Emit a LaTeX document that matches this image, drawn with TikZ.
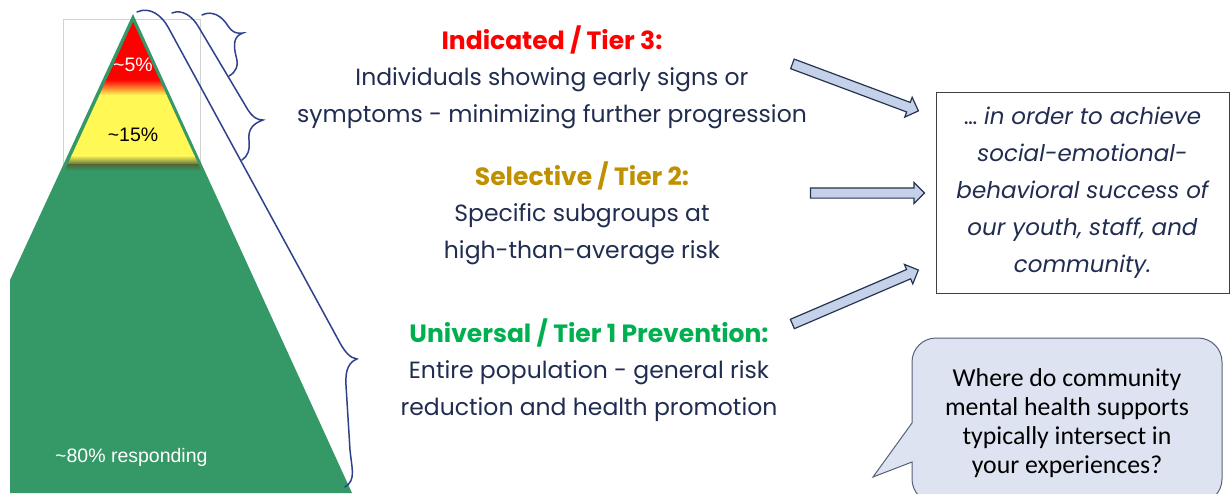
\documentclass[tikz,border=0pt]{standalone}
\usepackage{fontspec}
\setmainfont{Poppins}
\newfontfamily\arialfont{Liberation Sans}
\newfontfamily\calibrifont{Carlito}
\usetikzlibrary{calc,shapes.arrows}

\definecolor{pyrgreen}{RGB}{52,153,102}
\definecolor{pyrred}{RGB}{255,0,0}
\definecolor{pyryellow}{RGB}{255,248,85}
\definecolor{pyrolive}{RGB}{80,105,60}
\definecolor{bracecol}{RGB}{47,65,140}
\definecolor{navytext}{RGB}{33,45,80}
\definecolor{tierred}{RGB}{255,0,0}
\definecolor{tiergold}{RGB}{191,144,0}
\definecolor{tiergreen}{RGB}{0,176,80}
\definecolor{arrowfill}{RGB}{197,209,232}
\definecolor{arrowline}{RGB}{36,52,82}
\definecolor{bubblefill}{RGB}{221,227,240}
\definecolor{bubbleline}{RGB}{86,98,122}

\newcommand{\tiertitle}[2]{{\fontsize{25}{36.5}\selectfont\bfseries\color{#1}#2}}

\tikzset{
  tiertext/.style={align=center, text=navytext, inner sep=0pt,
    font=\fontsize{23.5}{36.5}\selectfont},
  blockarr/.style={single arrow, draw=arrowline, fill=arrowfill, line width=1.2pt,
    inner xsep=0pt, inner ysep=4.5pt, minimum width=20pt,
    single arrow head extend=5.5pt, single arrow tip angle=90},
  brace/.style={draw=bracecol, line width=1.5pt, line cap=round},
  pct/.style={font=\arialfont\fontsize{19.5}{22}\selectfont, inner sep=0pt},
}

% block arrow between two named points
\newcommand{\blockarrow}[2]{%
  \path let \p1=($(#2)-(#1)$), \n1={atan2(\y1,\x1)}, \n2={veclen(\x1,\y1)} in
    node[blockarr, rotate=\n1, minimum height=\n2] at ($(#1)!0.5!(#2)$) {};}

\begin{document}
\begin{tikzpicture}[x=1pt,y=-1pt]
  \useasboundingbox (0,0) rectangle (1232,493);

  % pyramid
  \draw[gray!35, line width=0.6pt] (63,165) -- (63,19) -- (200,19) -- (200,165);
  \fill[pyrgreen] (133,14) -- (352,493) -- (10,493) -- (10,280) -- cycle;
  \begin{scope}
    \clip (133,22) -- (201,170) -- (65,170) -- cycle;
    \fill[pyrred] (60,20) rectangle (210,80);
    \shade[top color=pyrred, bottom color=pyryellow] (60,79.5) rectangle (210,95);
    \fill[pyryellow] (60,94.5) rectangle (210,156);
    \shade[top color=pyryellow, bottom color=pyrolive] (60,155.5) rectangle (210,165);
    \shade[top color=pyrolive, bottom color=pyrgreen] (60,164.5) rectangle (210,171);
  \end{scope}
  \node[pct, text=white] (five) at (133,65) {\textasciitilde5\%};
  \node[pct] (fifteen) at (133,135) {\textasciitilde15\%};
  \node[pct, text=white, anchor=west] (eighty) at (55,457) {\textasciitilde80\% responding};

  % braces
  \draw[brace] (202,15) .. controls (212,10) and (222,16) .. (228,26)
    .. controls (232,32) and (236,34) .. (243,33)
    .. controls (234,36) and (233,44) .. (236,56)
    .. controls (239,66) and (236,72) .. (229,76);
  \draw[brace] (172,13) .. controls (182,9) and (192,16) .. (198,26) -- (248,110)
    .. controls (252,116) and (256,120) .. (263,120)
    .. controls (252,124) and (248,130) .. (249,140)
    .. controls (250,150) and (248,156) .. (242,160);
  \draw[brace] (137,12) .. controls (150,6) and (162,16) .. (168,27) -- (340,343)
    .. controls (345,352) and (350,358) .. (357,359)
    .. controls (349,362) and (345,370) .. (346,385) -- (350,450)
    .. controls (352,470) and (356,480) .. (345,487);

  % tiers
  \node[tiertext] (tierthree) at (552,77)
    {\tiertitle{tierred}{Indicated / Tier 3:}\\
     Individuals showing early signs or\\
     symptoms - minimizing further progression};
  \node[tiertext] (tiertwo) at (582,213)
    {\tiertitle{tiergold}{Selective / Tier 2:}\\
     Specific subgroups at\\
     high-than-average risk};
  \node[tiertext] (tierone) at (589,370)
    {\tiertitle{tiergreen}{Universal / Tier 1 Prevention:}\\
     Entire population - general risk\\
     reduction and health promotion};

  % goal
  \node[draw=black!75, line width=0.8pt, minimum width=293pt, minimum height=201pt,
    align=center, text=navytext, font=\itshape\fontsize{23}{37}\selectfont]
    (goal) at (1082.5,193)
    {{\upshape\ldots} in order to achieve\\ social-emotional-\\
     behavioral success of\\ our youth, staff, and\\ community.};

  \coordinate (threetail) at (790,63);
  \coordinate (threehead) at (916,110);
  \coordinate (twotail) at (808,193);
  \coordinate (twohead) at (922,193);
  \coordinate (onetail) at (790,325);
  \coordinate (onehead) at (916,271);
  \blockarrow{threetail}{threehead}
  \blockarrow{twotail}{twohead}
  \blockarrow{onetail}{onehead}

  % question bubble
  \draw[draw=bubbleline, fill=bubblefill, line width=1pt]
    (912,423) -- (912,362) arc[start angle=180, end angle=90, radius=24pt]
    -- (1198,338) arc[start angle=90, end angle=0, radius=24pt]
    -- (1222,479) arc[start angle=0, end angle=-90, radius=24pt]
    -- (936,503) arc[start angle=270, end angle=180, radius=24pt]
    -- (912,462) -- (873,477) -- cycle;
  \node[align=center, font=\calibrifont\fontsize{25.8}{29}\selectfont, inner sep=0pt]
    (question) at (1067,423)
    {Where do community\\ mental health supports\\ typically intersect in\\ your experiences?};
\end{tikzpicture}
\end{document}
